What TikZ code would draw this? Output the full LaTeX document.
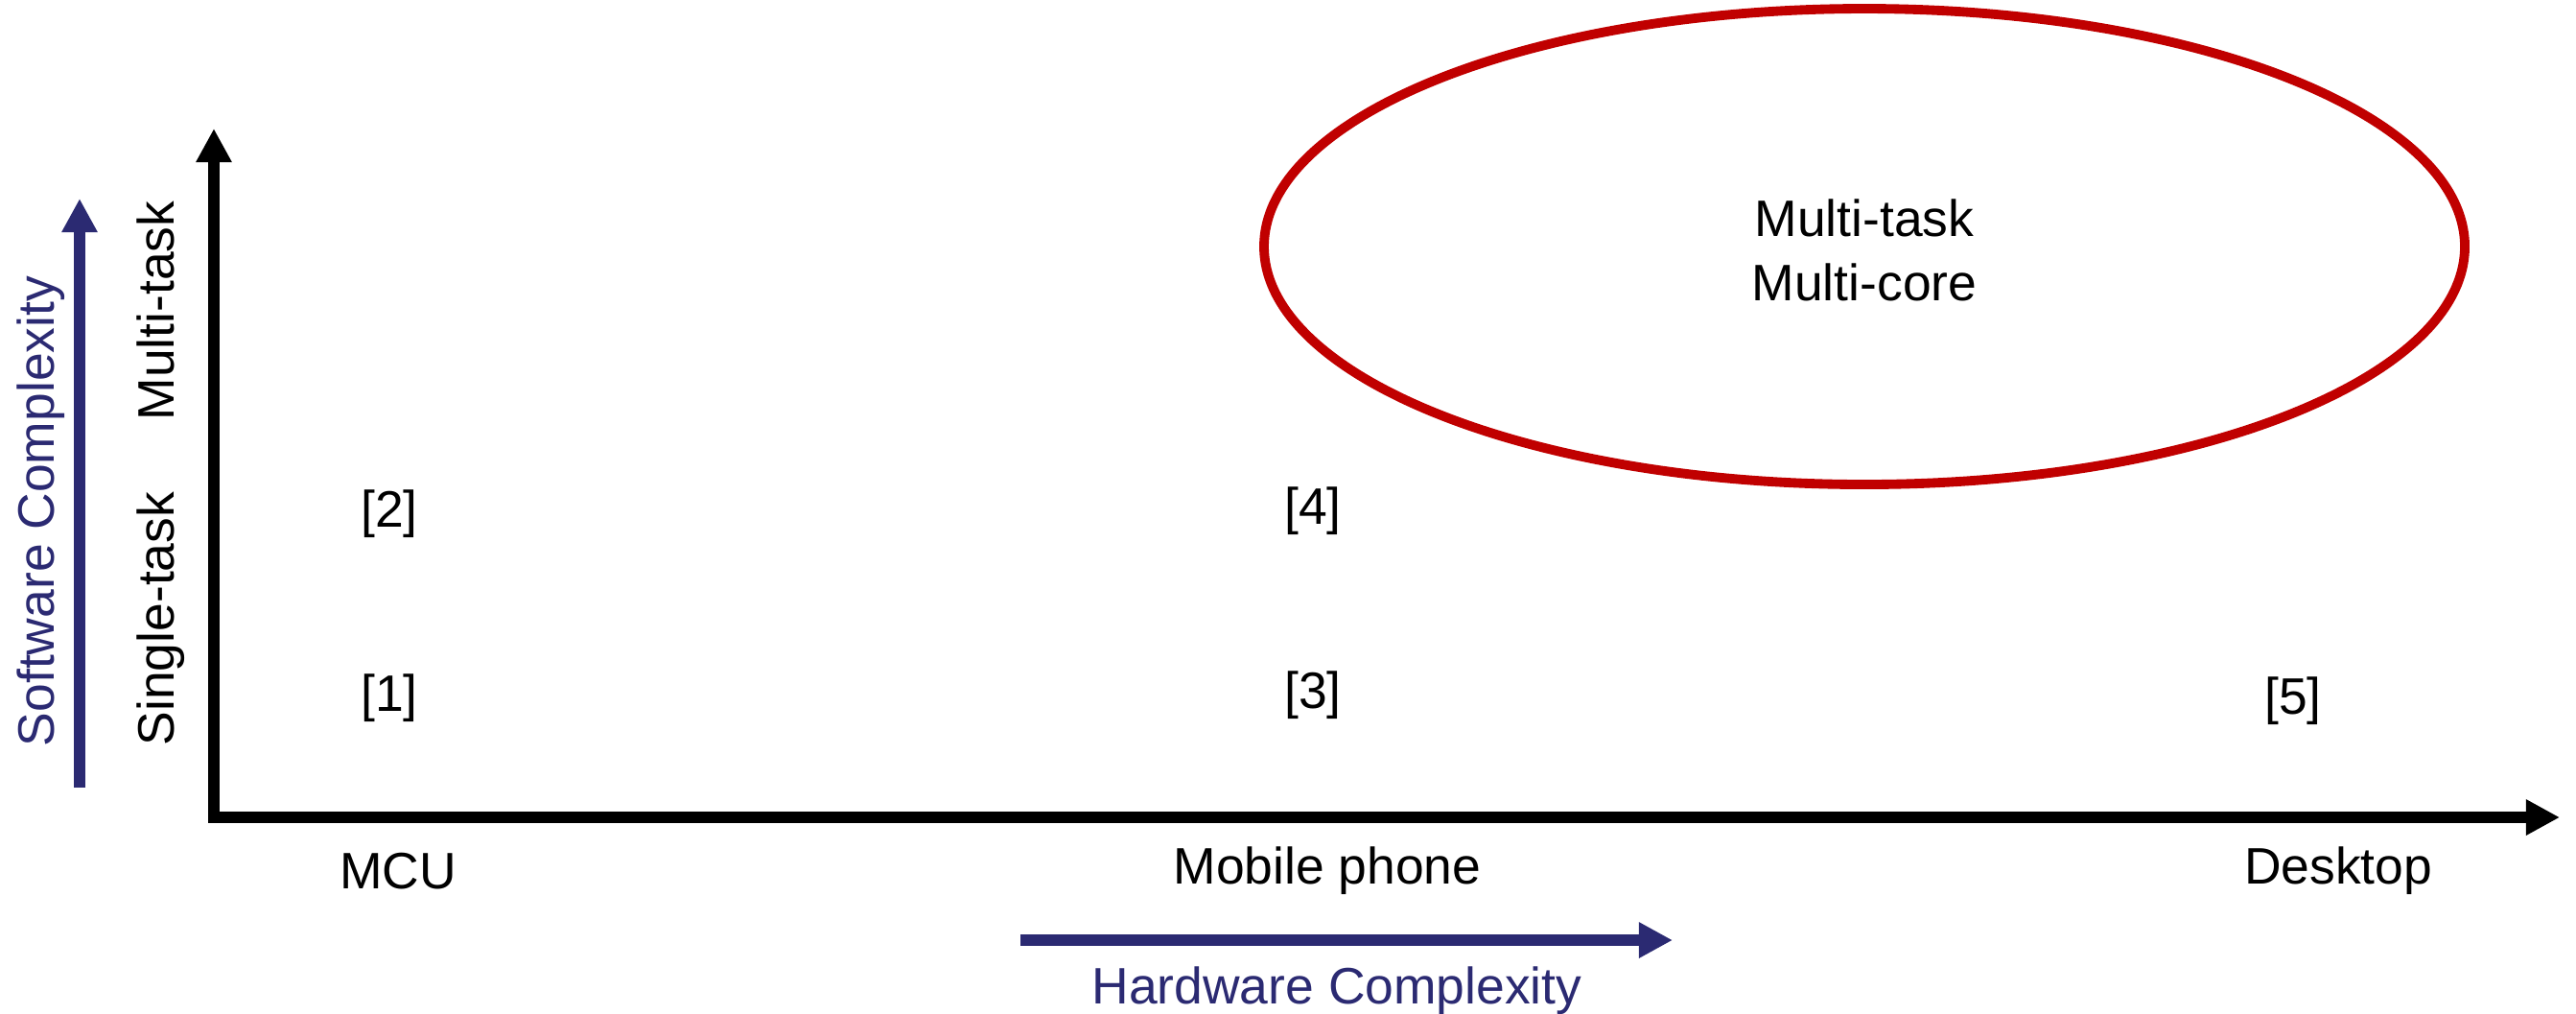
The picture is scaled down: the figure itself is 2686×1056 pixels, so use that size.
\documentclass[tikz,border=0pt]{standalone}
\usepackage{fontspec}
\setmainfont{Liberation Sans}
\usetikzlibrary{arrows.meta}
\definecolor{navy}{HTML}{2B2A72}
\definecolor{ellred}{HTML}{C00000}
\begin{document}
\begin{tikzpicture}[x=0.01cm,y=-0.01cm,
  lbl/.style={inner sep=0pt,font=\fontsize{15.2}{19}\selectfont,align=center},
  blbl/.style={lbl,text=navy},
  axis/.style={line width=3.4pt,-{Triangle[length=10pt,width=10pt]}},
  barrow/.style={line width=3.4pt,navy,-{Triangle[length=10pt,width=10pt]}}]
\useasboundingbox (0,0) rectangle (2686,1056);
% axes
\coordinate (o) at (223,852);
\coordinate (ytop) at (223,134);
\coordinate (xend) at (2669,852);
\draw[axis,line cap=rect] (o) -- (ytop);
\draw[axis] (o) -- (xend);
% complexity arrows
\coordinate (sb) at (83,821);
\coordinate (st) at (83,207);
\draw[barrow] (sb) -- (st);
\coordinate (hl) at (1064,980);
\coordinate (hr) at (1744,980);
\draw[barrow] (hl) -- (hr);
\node[blbl,rotate=90,anchor=base] (sw) at (57,533) {Software Complexity};
\node[blbl,anchor=base] (hw) at (1394,1046) {Hardware Complexity};
% y labels
\node[lbl,rotate=90,anchor=base] (mt) at (181,324) {Multi-task};
\node[lbl,rotate=90,anchor=base] (st1) at (181,645) {Single-task};
% x labels
\node[lbl] (mcu) at (415,908) {MCU};
\node[lbl] (mob) at (1384,908) {Mobile phone};
\node[lbl] (desk) at (2438,908) {Desktop};
% refs
\node[lbl] (r2) at (406,536) {[2]};
\node[lbl] (r1) at (406,728) {[1]};
\node[lbl] (r4) at (1369,533) {[4]};
\node[lbl] (r3) at (1369,725) {[3]};
\node[lbl] (r5) at (2391,731) {[5]};
% ellipse
\draw[ellred,line width=2.8pt] (1944,257) ellipse [x radius=626,y radius=248];
\node[lbl] (mc) at (1944,261) {Multi-task\\Multi-core};
\end{tikzpicture}
\end{document}
